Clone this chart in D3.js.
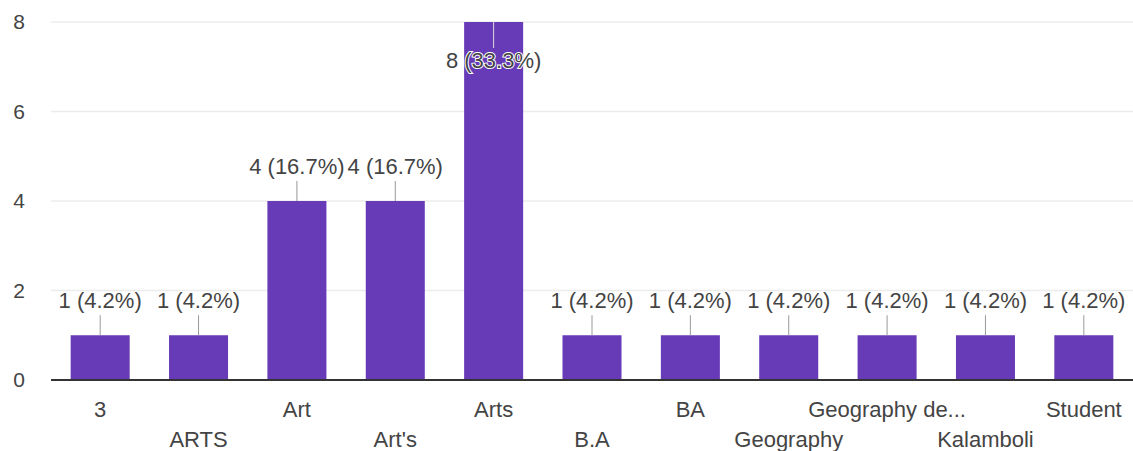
<!DOCTYPE html>
<html>
<head>
<meta charset="utf-8">
<script src="https://cdn.jsdelivr.net/npm/d3@7"></script>
<style>
  body { margin: 0; background: #fff; }
  text { font-family: "Liberation Sans", Arial, sans-serif; }
</style>
</head>
<body>
<div id="chart"></div>
<script>
// data
var categories = ["3", "ARTS", "Art", "Art's", "Arts", "B.A", "BA", "Geography", "Geography de...", "Kalamboli", "Student"];
var counts = [1, 1, 4, 4, 8, 1, 1, 1, 1, 1, 1];
var labels = ["1 (4.2%)", "1 (4.2%)", "4 (16.7%)", "4 (16.7%)", "8 (33.3%)", "1 (4.2%)", "1 (4.2%)", "1 (4.2%)", "1 (4.2%)", "1 (4.2%)", "1 (4.2%)"];
var yTicks = [0, 2, 4, 6, 8];

var margin = {top: 22, right: 0, bottom: 71, left: 51},
    width = 1133 - margin.left - margin.right,
    height = 451 - margin.top - margin.bottom;

var svg = d3.select("#chart")
  .append("svg")
    .attr("width", 1133)
    .attr("height", 451)
  .append("g")
    .attr("transform", "translate(" + margin.left + "," + margin.top + ")");

var x = d3.scaleBand()
  .domain(categories)
  .range([0, width])
  .paddingInner(0.4)
  .paddingOuter(0.2);

var y = d3.scaleLinear()
  .domain([0, 8])
  .range([height, 0]);

// gridlines
svg.selectAll("grid")
  .data(yTicks.filter(function(d) { return d > 0; }))
  .enter()
  .append("line")
    .attr("x1", 0)
    .attr("x2", width)
    .attr("y1", function(d) { return y(d); })
    .attr("y2", function(d) { return y(d); })
    .attr("stroke", "#ececec")
    .attr("stroke-width", 1.5);

// y tick labels
svg.selectAll("ylab")
  .data(yTicks)
  .enter()
  .append("text")
    .attr("x", -26)
    .attr("y", function(d) { return y(d); })
    .attr("dy", "0.35em")
    .attr("text-anchor", "end")
    .style("font-size", "21px")
    .style("fill", "#444")
    .text(function(d) { return d; });

// bars
svg.selectAll("bar")
  .data(counts)
  .enter()
  .append("rect")
    .attr("x", function(d, i) { return x(categories[i]); })
    .attr("y", function(d) { return y(d); })
    .attr("width", x.bandwidth())
    .attr("height", function(d) { return height - y(d); })
    .style("fill", "#673ab7");

// axis line
svg.append("line")
  .attr("x1", 0)
  .attr("x2", width)
  .attr("y1", height)
  .attr("y2", height)
  .attr("stroke", "#333")
  .attr("stroke-width", 2);

// annotations: if no room above, draw inside the bar
function inside(d) { return y(d) < 40; }

svg.selectAll("annline")
  .data(counts)
  .enter()
  .append("line")
    .attr("x1", function(d, i) { return x(categories[i]) + x.bandwidth() / 2; })
    .attr("x2", function(d, i) { return x(categories[i]) + x.bandwidth() / 2; })
    .attr("y1", function(d) { return y(d); })
    .attr("y2", function(d) { return inside(d) ? y(d) + 26 : y(d) - 20; })
    .attr("stroke", function(d) { return inside(d) ? "#ddd" : "#999"; })
    .attr("stroke-width", 1);

svg.selectAll("annlab")
  .data(counts)
  .enter()
  .append("text")
    .attr("x", function(d, i) { return x(categories[i]) + x.bandwidth() / 2; })
    .attr("y", function(d) { return inside(d) ? y(d) + 46 : y(d) - 27; })
    .attr("text-anchor", "middle")
    .style("font-size", "22px")
    .style("fill", "#444")
    .style("paint-order", "stroke")
    .style("stroke", function(d) { return inside(d) ? "#fff" : "none"; })
    .style("stroke-width", 2)
    .text(function(d, i) { return labels[i]; });

// x labels, staggered on two rows
svg.selectAll("xlab")
  .data(categories)
  .enter()
  .append("text")
    .attr("x", function(d) { return x(d) + x.bandwidth() / 2; })
    .attr("y", function(d, i) { return height + (i % 2 === 0 ? 37 : 67); })
    .attr("text-anchor", "middle")
    .style("font-size", "22px")
    .style("fill", "#444")
    .text(function(d) { return d; });
</script>
</body>
</html>
